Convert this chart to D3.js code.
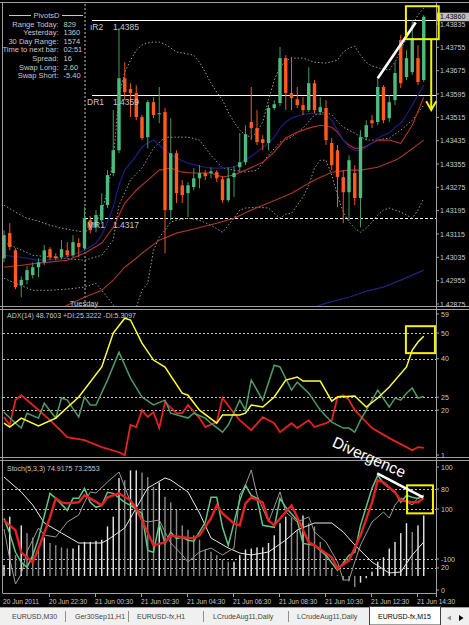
<!DOCTYPE html>
<meta charset="utf-8">
<title>EURUSD-fx,M15</title>
<style>
body { margin: 0; background: #000; }
svg { display: block; font-family: "Liberation Sans", Arial, sans-serif; }
</style>
<svg width="469" height="625"></svg>
<script src="https://d3js.org/d3.v7.min.js"></script>
<script>
// 15 minute bars, 20 Jun 20:30 -> 21 Jun 14:45
var open = [1.43032,1.43118,1.43059,1.42939,1.42957,1.42974,1.43001,1.43018,1.43063,1.43039,
  1.43035,1.43059,1.43042,1.43084,1.43066,1.43162,1.43138,1.43162,1.43214,1.43324,
  1.43402,1.43649,1.43612,1.43598,1.43516,1.43447,1.43567,1.43526,1.43533,1.43197,
  1.43392,1.43282,1.43255,1.43276,1.43306,1.43324,1.43324,1.43327,1.43303,1.43231,
  1.43310,1.43344,1.43361,1.43499,1.43478,1.43440,1.43427,1.43547,1.43564,1.43718,
  1.43598,1.43577,1.43557,1.43540,1.43632,1.43533,1.43547,1.43427,1.43402,1.43310,
  1.43258,1.43324,1.43238,1.43447,1.43505,1.43499,1.43619,1.43512,1.43574,1.43780,
  1.43653,1.43670,1.43718,1.43643];
var high = [1.43128,1.43152,1.43066,1.42970,1.43005,1.43018,1.43032,1.43077,1.43070,1.43049,
  1.43094,1.43087,1.43111,1.43101,1.43207,1.43176,1.43197,1.43255,1.43334,1.43540,
  1.43821,1.43704,1.43632,1.43625,1.43523,1.43574,1.43584,1.43619,1.43547,1.43512,
  1.43402,1.43300,1.43293,1.43341,1.43351,1.43334,1.43344,1.43334,1.43313,1.43344,
  1.43348,1.43461,1.43488,1.43619,1.43540,1.43454,1.43557,1.43574,1.43756,1.43728,
  1.43721,1.43619,1.43584,1.43687,1.43643,1.43584,1.43574,1.43444,1.43420,1.43334,
  1.43385,1.43351,1.43471,1.43505,1.43523,1.43649,1.43625,1.43591,1.43704,1.43797,
  1.43745,1.43848,1.43763,1.43866];
var low = [1.43018,1.43059,1.42926,1.42898,1.42943,1.42963,1.42967,1.43008,1.43025,1.43025,
  1.43029,1.43035,1.43035,1.43035,1.43059,1.43118,1.43121,1.43156,1.43204,1.43313,
  1.43392,1.43574,1.43516,1.43505,1.43437,1.43409,1.43512,1.43495,1.43049,1.43162,
  1.43221,1.43221,1.43173,1.43265,1.43272,1.43300,1.43306,1.43293,1.43221,1.43224,
  1.43241,1.43327,1.43351,1.43437,1.43420,1.43402,1.43402,1.43540,1.43553,1.43540,
  1.43540,1.43547,1.43523,1.43533,1.43529,1.43523,1.43420,1.43334,1.43207,1.43152,
  1.43162,1.43214,1.43138,1.43437,1.43478,1.43488,1.43495,1.43499,1.43557,1.43615,
  1.43643,1.43660,1.43625,1.43636];
var close = [1.43111,1.43070,1.42933,1.42957,1.42991,1.43001,1.43018,1.43059,1.43035,1.43032,
  1.43063,1.43042,1.43087,1.43070,1.43169,1.43128,1.43180,1.43214,1.43317,1.43402,
  1.43649,1.43601,1.43598,1.43516,1.43444,1.43567,1.43523,1.43529,1.43197,1.43392,
  1.43255,1.43248,1.43282,1.43306,1.43324,1.43313,1.43330,1.43306,1.43231,1.43306,
  1.43324,1.43361,1.43457,1.43478,1.43430,1.43427,1.43547,1.43560,1.43718,1.43598,
  1.43581,1.43557,1.43540,1.43632,1.43540,1.43550,1.43437,1.43351,1.43310,1.43258,
  1.43368,1.43238,1.43447,1.43488,1.43495,1.43619,1.43505,1.43567,1.43667,1.43632,
  1.43718,1.43787,1.43636,1.43860];

// main chart indicators, [bar, price]
var bbUpper = [[0,1.43214],[2,1.43190],[4,1.43169],[6,1.43159],[8,1.43145],[10,1.43135],[12,1.43128],[14,1.43121],[15,1.43135],[16,1.43156],[17,1.43190],[18,1.43265],[19,1.43368],[20,1.43591],[21,1.43670],[22,1.43711],[23,1.43745],[24,1.43763],[25,1.43770],[26,1.43773],[27,1.43773],[28,1.43766],[30,1.43739],[32,1.43732],[33,1.43728],[34,1.43704],[35,1.43670],[36,1.43632],[37,1.43601],[38,1.43574],[39,1.43533],[40,1.43499],[41,1.43471],[42,1.43454],[43,1.43447],[44,1.43464],[45,1.43499],[46,1.43574],[47,1.43643],[48,1.43687],[49,1.43708],[50,1.43718],[52,1.43718],[54,1.43704],[56,1.43701],[58,1.43711],[59,1.43739],[60,1.43752],[61,1.43759],[62,1.43728],[63,1.43704],[64,1.43691],[66,1.43680],[67,1.43677],[68,1.43704],[69,1.43745],[70,1.43787],[71,1.43831],[72,1.43866],[73,1.43890]];
var bbMiddle = [[0,1.43087],[5,1.43042],[10,1.43032],[14,1.43025],[17,1.43042],[19,1.43094],[20,1.43214],[22,1.43300],[24,1.43341],[26,1.43409],[28,1.43447],[30,1.43447],[32,1.43447],[34,1.43437],[36,1.43385],[38,1.43341],[40,1.43334],[42,1.43327],[44,1.43334],[46,1.43385],[48,1.43430],[50,1.43447],[52,1.43478],[54,1.43523],[56,1.43533],[57,1.43523],[59,1.43481],[61,1.43461],[63,1.43437],[65,1.43437],[67,1.43444],[69,1.43471],[71,1.43505],[73,1.43557]];
var bbLower = [[0,1.42963],[2,1.42946],[5,1.42922],[8,1.42922],[11,1.42926],[14,1.42933],[16,1.42946],[18,1.42898],[19,1.42871],[20,1.42864],[23,1.42864],[24,1.42922],[25,1.42946],[26,1.43059],[27,1.43104],[28,1.43128],[29,1.43156],[30,1.43162],[32,1.43169],[34,1.43162],[36,1.43145],[38,1.43121],[39,1.43145],[40,1.43169],[41,1.43197],[42,1.43204],[44,1.43207],[46,1.43204],[48,1.43169],[49,1.43183],[50,1.43186],[51,1.43214],[52,1.43241],[53,1.43282],[54,1.43341],[55,1.43368],[56,1.43368],[57,1.43317],[58,1.43248],[59,1.43190],[60,1.43156],[61,1.43135],[62,1.43121],[63,1.43135],[64,1.43156],[65,1.43180],[66,1.43197],[67,1.43204],[68,1.43197],[69,1.43190],[70,1.43180],[71,1.43169],[72,1.43197],[73,1.43238]];
var maBlue = [[0,1.43042],[3,1.43035],[6,1.43025],[10,1.43029],[14,1.43059],[16,1.43084],[17,1.43111],[18,1.43156],[19,1.43207],[20,1.43282],[21,1.43334],[22,1.43358],[23,1.43385],[24,1.43413],[25,1.43427],[26,1.43437],[27,1.43420],[28,1.43402],[30,1.43375],[32,1.43358],[34,1.43348],[36,1.43341],[38,1.43341],[40,1.43344],[42,1.43368],[44,1.43396],[46,1.43427],[47,1.43447],[48,1.43478],[49,1.43499],[50,1.43512],[52,1.43526],[54,1.43529],[56,1.43523],[57,1.43505],[58,1.43471],[59,1.43437],[60,1.43413],[61,1.43402],[62,1.43402],[63,1.43413],[64,1.43427],[65,1.43444],[66,1.43454],[67,1.43461],[68,1.43481],[69,1.43495],[70,1.43523],[71,1.43557],[72,1.43591],[73,1.43625]];
var maRed = [[0,1.43001],[3,1.43008],[6,1.43015],[11,1.43025],[14,1.43049],[17,1.43084],[19,1.43138],[21,1.43221],[23,1.43265],[25,1.43300],[27,1.43334],[29,1.43341],[31,1.43327],[33,1.43324],[36,1.43324],[38,1.43310],[40,1.43317],[42,1.43334],[45,1.43361],[47,1.43396],[49,1.43444],[51,1.43464],[53,1.43478],[55,1.43488],[57,1.43481],[58,1.43464],[59,1.43437],[60,1.43420],[61,1.43409],[62,1.43409],[63,1.43416],[65,1.43437],[67,1.43437],[69,1.43426],[71,1.43488],[73,1.43584]];
var maSlow = [[9,1.42847],[11,1.42871],[14,1.42898],[17,1.42922],[19,1.42957],[21,1.43001],[23,1.43032],[24,1.43049],[27,1.43094],[30,1.43118],[33,1.43132],[37,1.43152],[40,1.43169],[43,1.43197],[46,1.43221],[50,1.43255],[54,1.43300],[57,1.43327],[60,1.43334],[62,1.43334],[65,1.43344],[68,1.43368],[69,1.43378],[73,1.43437]];
var maLong = [[53,1.42857],[56,1.42878],[60,1.42898],[63,1.42919],[66,1.42933],[69,1.42957],[73,1.42991]];

// daily pivots
var pivotNames = ["\u0131R2", "DR1", "MR1"];
var pivotValues = [1.4385, 1.4359, 1.4317];

// ADX(14): [bar, value]
var adx = [[0,14.9],[1,13.4],[3,16.9],[6,13.8],[9,16.9],[13,25.1],[17,36.8],[19,50],[21,55.8],[22,55.1],[24,46.1],[26,39.5],[28,36.8],[31,26.6],[32,25.8],[34,20.0],[37,14.9],[38,18.1],[41,18.1],[42,18.8],[43,22.0],[45,21.2],[47,25.1],[49,31.7],[51,32.9],[52,31.3],[55,31.3],[57,23.5],[58,25.1],[61,25.5],[63,21.2],[65,24.7],[67,29.0],[70,36.8],[71,43.4],[72,46.5],[73,48.8]];
var plusDI = [[0,19.2],[2,14.9],[3,13.0],[4,18.8],[6,16.9],[7,22.7],[9,16.9],[10,24.7],[11,23.9],[13,17.3],[14,25.1],[15,22.0],[16,22.0],[18,31.7],[20,42.6],[22,32.5],[24,25.1],[26,22.0],[28,23.9],[29,18.8],[32,16.9],[33,18.8],[35,16.9],[36,14.9],[38,11.4],[39,14.2],[41,23.9],[42,20.0],[43,31.7],[45,23.9],[47,37.5],[48,36.8],[50,27.8],[51,30.9],[53,26.6],[55,20.0],[57,15.3],[59,13.0],[60,13.0],[61,11.4],[62,16.1],[64,23.9],[65,27.8],[67,21.2],[68,24.7],[69,23.9],[70,26.6],[71,28.6],[72,24.7],[73,25.3]];
var minusDI = [[0,17.3],[1,14.2],[2,23.9],[3,25.8],[5,22.0],[8,16.1],[11,9.5],[14,8.3],[17,5.6],[20,3.6],[21,2.5],[22,14.2],[23,13.4],[24,20.0],[25,17.3],[26,19.2],[27,13.0],[28,23.1],[30,18.8],[31,18.8],[32,22.0],[34,16.9],[35,13.4],[37,15.3],[38,24.7],[40,18.8],[41,16.1],[43,12.2],[45,17.3],[47,14.9],[48,11.4],[50,14.9],[51,13.0],[53,16.1],[54,13.4],[56,14.9],[57,16.1],[58,25.1],[59,25.8],[60,23.9],[61,20.0],[64,13.0],[67,9.1],[70,5.6],[71,4.4],[72,5.6],[73,5.3]];

// Stoch(5,3,3): [bar, value]
var stochK = [[0,57.7],[1,46.3],[2,31.9],[3,24.3],[4,20.5],[5,29.6],[6,42.5],[8,76.7],[9,72.9],[11,63.8],[12,72.9],[13,72.9],[14,80.5],[15,69.9],[16,66.1],[17,67.6],[18,77.5],[19,76.7],[21,69.9],[22,67.6],[24,61.5],[25,33.4],[26,31.9],[27,53.9],[28,38.7],[29,47.1],[30,42.5],[31,43.3],[32,41.0],[33,40.3],[35,54.7],[36,73.7],[37,73.7],[38,50.9],[39,37.2],[41,71.4],[42,82.8],[43,75.2],[44,72.9],[45,52.4],[47,50.9],[48,72.9],[49,66.1],[51,56.2],[52,38.7],[54,37.2],[56,29.6],[58,18.2],[60,29.6],[61,31.9],[62,52.4],[64,80.5],[65,90.4],[66,84.3],[68,77.5],[69,69.9],[70,75.2],[71,73.7],[72,72.9],[73,74.9]];
var stochD = [[0,56.2],[2,48.6],[3,31.9],[5,24.3],[6,34.9],[8,58.5],[9,72.9],[10,69.9],[11,69.1],[13,69.9],[14,75.2],[15,72.9],[17,67.6],[18,73.7],[20,76.7],[22,71.4],[23,65.3],[24,56.2],[26,37.2],[28,39.5],[29,44.8],[31,43.3],[33,42.5],[34,44.8],[36,57.7],[37,67.6],[38,61.5],[40,53.9],[41,52.4],[42,69.1],[43,73.7],[45,69.9],[46,56.2],[47,52.4],[50,67.6],[51,58.5],[53,39.5],[54,37.2],[57,28.1],[58,19.7],[60,25.8],[62,44.8],[64,69.9],[65,86.6],[66,85.1],[68,77.5],[69,71.4],[71,69.9],[72,69.9],[73,73.3]];
// overlay oscillator lines (scale -100..100)
var oscSmooth = [[0,228],[3,168],[5,116],[7,44],[10,4],[13,-36],[17,-36],[18,-24],[21,24],[23,104],[25,184],[28,224],[29,216],[32,168],[34,84],[36,-16],[39,-56],[41,-76],[43,-84],[46,-72],[49,-24],[51,16],[54,44],[57,44],[59,8],[61,-44],[64,-112],[67,-156],[69,-152],[71,-84],[73,-32]];
var oscFast = [[0,20],[1,-100],[2,-200],[3,-160],[4,-70],[6,24],[7,-4],[9,-12],[11,48],[13,76],[14,128],[15,168],[16,164],[18,208],[20,248],[21,188],[22,128],[24,56],[25,48],[27,56],[28,8],[29,-36],[31,-84],[32,-112],[34,-72],[36,-56],[38,-84],[40,-56],[41,156],[42,196],[43,256],[44,156],[46,48],[48,168],[49,88],[51,48],[53,68],[54,8],[56,-32],[58,-112],[59,-184],[60,-184],[61,-112],[62,-44],[64,48],[66,88],[67,64],[68,116],[69,144],[71,116],[72,144],[73,156]];
// histogram, one value per bar
var hist = [10,54,19,46,39,35,25,35,30,28,26,25,25,28,31,31,32,33,45,54,
  89,87,96,96,94,90,81,85,72,67,60,46,42,37,33,24,22,19,15,13,
  13,19,24,25,26,26,30,37,48,54,53,42,55,48,45,31,19,7,1,-4,
  -5,-10,-6,-2,4,13,17,25,31,39,48,40,46,55];

var timeTicks = [0, 8, 16, 24, 32, 40, 48, 56, 64, 72];
var timeLabels = ["20 Jun 2011", "20 Jun 22:30", "21 Jun 00:30", "21 Jun 02:30", "21 Jun 04:30",
  "21 Jun 06:30", "21 Jun 08:30", "21 Jun 10:30", "21 Jun 12:30", "21 Jun 14:30"];
var tabs = ["EURUSD,M30", "Ger30Sep11,H1", "EURUSD-fx,H1", "LCrudeAug11,Daily", "LCrudeAug11,Daily", "EURUSD-fx,M15"];

var infoLabels = ["Range Today:", "Yesterday:", "30 Day Range:", "Time to next bar:", "Spread:", "Swap Long:", "Swap Short:"];
var infoValues = ["829", "1360", "1574", "02:51", "16", "2.60", "-5.40"];

var svg = d3.select("svg");
var L = 3, R = 436;
var fg = "#c8c8c8";

// scales
var x = d3.scaleLinear().domain([0, 73]).range([4, 423.75]);
var yP = d3.scaleLinear().domain([1.42875, 1.43835]).range([304, 24]);
var yA = d3.scaleLinear().domain([1.35, 59]).range([458, 310]);
var yS = d3.scaleLinear().domain([0, 100]).range([594.3, 462.7]);
var yO = d3.scaleLinear().domain([-100, 100]).range([559, 509]);
var yH = d3.scaleLinear().domain([0, 100]).range([576, 466]);

svg.append("rect").attr("width", 469).attr("height", 607).attr("fill", "#000");

// clip areas for the three panels
var defs = svg.append("defs");
function clip(id, y0, y1) {
  defs.append("clipPath").attr("id", id).append("rect")
    .attr("x", L).attr("y", y0).attr("width", R - L).attr("height", y1 - y0);
  return svg.append("g").attr("clip-path", "url(#" + id + ")");
}
var gMain = clip("cMain", 4, 306);
var gAdx = clip("cAdx", 310, 457);
var gSto = clip("cSto", 461, 593);

function drawLine(g, data, ys, color, w, dash) {
  g.append("path")
    .datum(data)
    .attr("fill", "none")
    .attr("stroke", color)
    .attr("stroke-width", w)
    .attr("stroke-dasharray", dash || null)
    .attr("d", d3.line().x(function(d) { return x(d[0]); }).y(function(d) { return ys(d[1]); }));
}

// ---- main panel ----
// day separator
gMain.append("line").attr("x1", x(14) + 0.5).attr("x2", x(14) + 0.5).attr("y1", 4).attr("y2", 306)
  .attr("stroke", "#c0c0c0").attr("stroke-dasharray", "2,2");

// pivots
pivotValues.forEach(function(p, k) {
  gMain.append("line")
    .attr("x1", k == 2 ? 85 : 92).attr("x2", R)
    .attr("y1", Math.round(yP(p)) + 0.5).attr("y2", Math.round(yP(p)) + 0.5)
    .attr("stroke", "#fff").attr("stroke-dasharray", k == 2 ? "3,2" : null);
  svg.append("text").attr("x", k == 0 ? 90 : 87).attr("y", yP(p) + 10)
    .attr("fill", fg).attr("font-size", 8.5).text(pivotNames[k]);
  svg.append("text").attr("x", 113).attr("y", yP(p) + 10)
    .attr("fill", fg).attr("font-size", 8.5).text(p.toFixed(4));
});

drawLine(gMain, bbUpper, yP, "#9a9a9a", 1, "1.5,2");
drawLine(gMain, bbMiddle, yP, "#9a9a9a", 1, "1.5,2");
drawLine(gMain, bbLower, yP, "#9a9a9a", 1, "1.5,2");
drawLine(gMain, maLong, yP, "#23237e", 1.2);
drawLine(gMain, maSlow, yP, "#a8382c", 1.1);
drawLine(gMain, maRed, yP, "#b8322a", 1.1);
drawLine(gMain, maBlue, yP, "#1c1c78", 1.3);

// candles
var bars = d3.range(open.length).map(function(i) {
  return { i: i, o: open[i], h: high[i], l: low[i], c: close[i] };
});
var candle = gMain.selectAll("g.bar").data(bars).enter().append("g").attr("class", "bar");
candle.append("line")
  .attr("x1", function(d) { return x(d.i); })
  .attr("x2", function(d) { return x(d.i); })
  .attr("y1", function(d) { return yP(d.h); })
  .attr("y2", function(d) { return yP(d.l); })
  .attr("stroke", function(d) { return d.c >= d.o ? "#3f9a64" : "#f0561c"; })
  .attr("stroke-width", 1);
candle.append("rect")
  .attr("x", function(d) { return x(d.i) - 1.7; })
  .attr("width", 3.4)
  .attr("y", function(d) { return yP(Math.max(d.o, d.c)); })
  .attr("height", function(d) { return Math.max(1, Math.abs(yP(d.o) - yP(d.c))); })
  .attr("fill", function(d) { return d.c >= d.o ? "#4cbb7f" : "#ff5a1f"; });

// info block
svg.append("line").attr("x1", 9).attr("x2", 31).attr("y1", 15.5).attr("y2", 15.5).attr("stroke", fg);
svg.append("line").attr("x1", 62).attr("x2", 83).attr("y1", 15.5).attr("y2", 15.5).attr("stroke", fg);
svg.append("text").attr("x", 46.5).attr("y", 18).attr("text-anchor", "middle")
  .attr("fill", fg).attr("font-size", 7.5).text("PivotsD");
infoLabels.forEach(function(t, k) {
  svg.append("text").attr("x", 58.5).attr("y", 26.5 + k * 8.65).attr("text-anchor", "end")
    .attr("fill", fg).attr("font-size", 7.5).text(t);
  svg.append("text").attr("x", 63.5).attr("y", 26.5 + k * 8.65)
    .attr("fill", fg).attr("font-size", 7.5).text(infoValues[k]);
});
svg.append("text").attr("x", 84).attr("y", 306).attr("text-anchor", "middle")
  .attr("fill", fg).attr("font-size", 7.5).text("Tuesday");

// ---- ADX panel ----
[50, 40, 25, 20].forEach(function(v) {
  gAdx.append("line").attr("x1", L).attr("x2", R)
    .attr("y1", Math.round(yA(v)) + 0.5).attr("y2", Math.round(yA(v)) + 0.5)
    .attr("stroke", "#c0c0c0").attr("stroke-dasharray", "2,2");
});
drawLine(gAdx, minusDI, yA, "#e42222", 1.8);
drawLine(gAdx, plusDI, yA, "#4f9a6c", 1.5);
drawLine(gAdx, adx, yA, "#ffff3c", 1.5);
svg.append("text").attr("x", 7).attr("y", 318).attr("fill", fg).attr("font-size", 7)
  .text("ADX(14) 48.7603 +DI:25.3222 -DI:5.3097");

// ---- Stoch panel ----
[[yS, 80], [yO, 100], [yO, -100], [yS, 20]].forEach(function(d) {
  var yy = Math.round(d[0](d[1])) + 0.5;
  gSto.append("line").attr("x1", L).attr("x2", R).attr("y1", yy).attr("y2", yy)
    .attr("stroke", "#c0c0c0").attr("stroke-dasharray", "2,2");
});
gSto.selectAll("rect.h").data(hist).enter().append("rect").attr("class", "h")
  .attr("x", function(d, i) { return x(i) - 0.7; })
  .attr("width", 1.4)
  .attr("y", function(d) { return yH(Math.max(0, d)); })
  .attr("height", function(d) { return Math.abs(yH(d) - yH(0)); })
  .attr("fill", function(d, i) { return i > 0 && d < hist[i - 1] ? "#8a8a8a" : "#e8e8e8"; });
drawLine(gSto, oscSmooth, yO, "#e8e8e8", 1);
drawLine(gSto, oscFast, yO, "#9a9a9a", 1);
drawLine(gSto, stochK, yS, "#62c586", 1.5);
drawLine(gSto, stochD, yS, "#e42222", 2.4);
svg.append("text").attr("x", 7).attr("y", 471).attr("fill", fg).attr("font-size", 7)
  .text("Stoch(5,3,3) 74.9175 73.2553");

// ---- frame and price scales ----
var frame = svg.append("g").attr("stroke", "#a0a0a0").attr("fill", "none");
frame.append("line").attr("x1", 0).attr("x2", 469).attr("y1", 2.5).attr("y2", 2.5);
frame.append("line").attr("x1", 2.5).attr("x2", 2.5).attr("y1", 2.5).attr("y2", 593);
frame.append("line").attr("x1", R + 0.5).attr("x2", R + 0.5).attr("y1", 2.5).attr("y2", 597);
[306.5, 309.5, 457.5, 460.5].forEach(function(yy) {
  frame.append("line").attr("x1", 0).attr("x2", 469).attr("y1", yy).attr("y2", yy);
});
frame.append("line").attr("x1", 2.5).attr("x2", R + 0.5).attr("y1", 593.5).attr("y2", 593.5);

var axisText = svg.append("g").attr("fill", fg).attr("font-size", 7);
d3.range(13).forEach(function(k) {
  var p = 1.42875 + k * 0.0008;
  var yy = yP(p);
  frame.append("line").attr("x1", R).attr("x2", R + 3).attr("y1", yy).attr("y2", yy);
  axisText.append("text").attr("x", 440).attr("y", yy + 2.5).text(p.toFixed(5));
});
// current bid label
svg.append("rect").attr("x", 437).attr("y", yP(1.4386) - 4).attr("width", 32).attr("height", 8.5).attr("fill", "#c0c0c0");
svg.append("text").attr("x", 440).attr("y", yP(1.4386) + 2.5).attr("fill", "#000").attr("font-size", 7).text("1.43860");

[[59, yA], [50, yA], [40, yA], [25, yA], [20, yA], [1, yA]].forEach(function(d) {
  var yy = Math.max(314, Math.min(455, d[1](d[0])));
  frame.append("line").attr("x1", R).attr("x2", R + 3).attr("y1", yy).attr("y2", yy);
  axisText.append("text").attr("x", 441).attr("y", yy + 2.5).text(d[0]);
});
[[100, yS], [80, yS], [100, yO], [-100, yO], [20, yS], [0, yS]].forEach(function(d) {
  var yy = Math.max(467, Math.min(590, d[1](d[0])));
  frame.append("line").attr("x1", R).attr("x2", R + 3).attr("y1", yy).attr("y2", yy);
  axisText.append("text").attr("x", 441).attr("y", yy + 2.5).text(d[0]);
});

// time axis
timeTicks.forEach(function(t, k) {
  if (k > 0) frame.append("line").attr("x1", x(t) - 0.5).attr("x2", x(t) - 0.5).attr("y1", 594).attr("y2", 597);
  axisText.append("text").attr("x", x(t) - 1).attr("y", 603.5).attr("font-size", 6.6).text(timeLabels[k]);
});

// ---- drawn objects ----
var ann = svg.append("g").attr("fill", "none");
ann.append("line").attr("x1", x(65)).attr("y1", yP(1.43649)).attr("x2", x(71.6)).attr("y2", yP(1.43840))
  .attr("stroke", "#fff").attr("stroke-width", 2.6);
ann.append("rect").attr("x", x(69.9)).attr("y", yP(1.43896))
  .attr("width", x(75.6) - x(69.9)).attr("height", yP(1.43783) - yP(1.43896))
  .attr("stroke", "#f4f400").attr("stroke-width", 2);
ann.append("line").attr("x1", x(74.3)).attr("x2", x(74.3)).attr("y1", yP(1.43783)).attr("y2", yP(1.43546))
  .attr("stroke", "#f4f400").attr("stroke-width", 2);
ann.append("polyline")
  .attr("points", [[x(74.3) - 5, yP(1.43570)], [x(74.3), yP(1.43540)], [x(74.3) + 5, yP(1.43570)]].join(" "))
  .attr("stroke", "#f4f400").attr("stroke-width", 2);
ann.append("rect").attr("x", x(69.9)).attr("y", yA(52.7))
  .attr("width", x(74.95) - x(69.9)).attr("height", yA(42.2) - yA(52.7))
  .attr("stroke", "#f4f400").attr("stroke-width", 2);
ann.append("rect").attr("x", x(70.1)).attr("y", yS(82.8))
  .attr("width", x(74.6) - x(70.1)).attr("height", yS(61.5) - yS(82.8))
  .attr("stroke", "#f4f400").attr("stroke-width", 2);
ann.append("line").attr("x1", x(64.9)).attr("y1", yS(91.9)).attr("x2", x(72.9)).attr("y2", yS(73.7))
  .attr("stroke", "#fff").attr("stroke-width", 2.6);
svg.append("text")
  .attr("transform", "translate(" + x(56.9) + "," + yA(6.0) + ") rotate(24)")
  .attr("fill", "#fff").attr("font-size", 15.5).text("Divergence");

// ---- tab bar ----
svg.append("rect").attr("y", 607).attr("width", 469).attr("height", 18).attr("fill", "#f0f0f0");
svg.append("line").attr("x1", 0).attr("x2", 469).attr("y1", 607.5).attr("y2", 607.5).attr("stroke", "#a0a0a0");
var tabX = [12, 75, 137, 213, 297, 378];
var sepX = [65, 128, 203, 288];
svg.append("rect").attr("x", 369.5).attr("y", 606.5).attr("width", 71).attr("height", 18.5)
  .attr("fill", "#fff").attr("stroke", "#404040");
tabs.forEach(function(t, k) {
  svg.append("text").attr("x", tabX[k]).attr("y", 618.5).attr("font-size", 7)
    .attr("fill", k == 5 ? "#000" : "#444").text(t);
});
sepX.forEach(function(s) {
  svg.append("line").attr("x1", s + 0.5).attr("x2", s + 0.5).attr("y1", 611).attr("y2", 622).attr("stroke", "#909090");
});
svg.append("path").attr("d", "M451,615.5 L447,618 L451,620.5 Z").attr("fill", "#909090");
svg.append("path").attr("d", "M459,615 L463.5,618 L459,621 Z").attr("fill", "#000");
</script>
